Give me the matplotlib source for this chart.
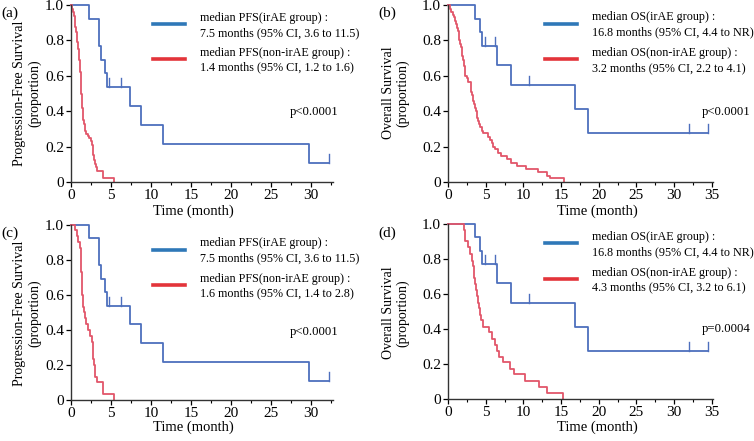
import matplotlib
matplotlib.use("Agg")
import matplotlib.pyplot as plt
from matplotlib.lines import Line2D
from matplotlib.ticker import MultipleLocator

plt.rcParams['font.family'] = ['Liberation Serif', 'DejaVu Serif']

W, H = 754, 441

# ---- data ----
# irAE group, PFS (panels a and c)
pfs_ir_t = [2.3, 3.5, 3.8, 4.3, 4.5, 7.4, 8.7, 11.5, 29.8]
pfs_ir_s = [0.923, 0.769, 0.692, 0.615, 0.538, 0.431, 0.323, 0.215, 0.108]
pfs_ir_cens = [4.8, 6.3, 32.3]
pfs_ir_end = 32.3

# non-irAE group, PFS (panel a)
pfs_a_t = [0.1, 0.2, 0.35, 0.45, 0.5, 0.55, 0.6, 0.7, 0.75, 0.8, 0.85, 0.9, 0.95, 1.0,
           1.05, 1.1, 1.15, 1.2, 1.25, 1.3, 1.35, 1.4, 1.45, 1.5, 1.55, 1.6, 1.7, 1.8,
           1.9, 2.1, 2.3, 2.5, 2.6, 2.7, 2.75, 2.8, 2.9, 3.0, 3.1, 3.3, 4.0, 5.4]
pfs_a_s = [0.98, 0.96, 0.94, 0.92, 0.90, 0.875, 0.85, 0.83, 0.81, 0.79, 0.77, 0.75, 0.73,
           0.71, 0.69, 0.65, 0.62, 0.58, 0.54, 0.50, 0.46, 0.42, 0.40, 0.375, 0.35, 0.33,
           0.31, 0.29, 0.27, 0.26, 0.25, 0.23, 0.21, 0.19, 0.17, 0.15, 0.125, 0.10, 0.083,
           0.063, 0.021, 0.0]

# non-irAE group, PFS (panel c)
pfs_c_t = [0.5, 0.7, 0.9, 1.1, 1.2, 1.25, 1.3, 1.35, 1.4, 1.45, 1.5, 1.6, 1.7, 1.9, 2.1,
           2.4, 2.6, 2.7, 2.75, 2.8, 2.9, 2.95, 3.0, 3.2, 4.0, 5.4]
pfs_c_s = [0.967, 0.933, 0.90, 0.867, 0.833, 0.80, 0.733, 0.667, 0.60, 0.567, 0.533, 0.50,
           0.467, 0.433, 0.40, 0.367, 0.333, 0.30, 0.267, 0.233, 0.20, 0.167, 0.133, 0.10,
           0.033, 0.0]

# irAE group, OS (panels b and d)
os_ir_t = [3.6, 4.2, 4.5, 6.5, 8.3, 16.8, 18.6]
os_ir_s = [0.923, 0.846, 0.769, 0.659, 0.549, 0.412, 0.275]
os_ir_cens = [4.9, 6.3, 10.8, 32.0, 34.5]
os_ir_end = 34.5

# non-irAE group, OS (panel b)
os_b_t = [0.2, 0.4, 0.6, 0.8, 0.9, 1.0, 1.2, 1.3, 1.4, 1.5, 1.6, 1.7, 1.8, 1.9, 2.0, 2.1,
          2.2, 2.3, 2.5, 2.7, 3.0, 3.1, 3.2, 3.3, 3.5, 3.6, 3.7, 3.8, 3.9, 4.0, 4.1, 4.3,
          4.5, 4.7, 5.3, 5.6, 5.8, 6.0, 6.3, 6.7, 7.0, 7.8, 8.3, 9.2, 10.4, 12.0, 13.2,
          13.5, 15.4]
os_b_s = [0.98, 0.96, 0.945, 0.93, 0.91, 0.89, 0.87, 0.855, 0.82, 0.80, 0.78, 0.76, 0.745,
          0.71, 0.69, 0.655, 0.62, 0.60, 0.585, 0.565, 0.55, 0.51, 0.49, 0.455, 0.44, 0.42,
          0.40, 0.38, 0.36, 0.345, 0.33, 0.31, 0.29, 0.275, 0.255, 0.24, 0.22, 0.20, 0.185,
          0.165, 0.145, 0.13, 0.11, 0.09, 0.075, 0.055, 0.035, 0.02, 0.0]

# non-irAE group, OS (panel d)
os_d_t = [2.1, 2.2, 2.3, 2.6, 2.9, 3.2, 3.3, 3.4, 3.5, 3.6, 3.7, 3.8, 4.0, 4.1, 4.2, 4.4,
          4.6, 5.4, 5.8, 6.2, 6.5, 6.8, 7.3, 8.2, 8.7, 10.2, 12.1, 13.2, 15.3]
os_d_s = [0.965, 0.93, 0.90, 0.865, 0.83, 0.79, 0.76, 0.72, 0.69, 0.655, 0.62, 0.59, 0.55,
          0.52, 0.48, 0.45, 0.41, 0.38, 0.345, 0.31, 0.275, 0.24, 0.21, 0.17, 0.14, 0.105,
          0.07, 0.035, 0.0]

panels = [
    dict(tag='(a)', ylab=['Progression-Free Survival', '(proportion)'],
         ir=(pfs_ir_t, pfs_ir_s, pfs_ir_cens, pfs_ir_end), non=(pfs_a_t, pfs_a_s),
         xmax=32.7, xticks=range(0, 31, 5),
         leg=['median PFS(irAE group) :', '7.5 months (95% CI, 3.6 to 11.5)',
              'median PFS(non-irAE group) :', '1.4 months (95% CI, 1.2 to 1.6)'],
         p='p<0.0001'),
    dict(tag='(b)', ylab=['Overall Survival', '(proportion)'],
         ir=(os_ir_t, os_ir_s, os_ir_cens, os_ir_end), non=(os_b_t, os_b_s),
         xmax=35.2, xticks=range(0, 36, 5),
         leg=['median OS(irAE group) :', '16.8 months (95% CI, 4.4 to NR)',
              'median OS(non-irAE group) :', '3.2 months (95% CI, 2.2 to 4.1)'],
         p='p<0.0001'),
    dict(tag='(c)', ylab=['Progression-Free Survival', '(proportion)'],
         ir=(pfs_ir_t, pfs_ir_s, pfs_ir_cens, pfs_ir_end), non=(pfs_c_t, pfs_c_s),
         xmax=32.7, xticks=range(0, 31, 5),
         leg=['median PFS(irAE group) :', '7.5 months (95% CI, 3.6 to 11.5)',
              'median PFS(non-irAE group) :', '1.6 months (95% CI, 1.4 to 2.8)'],
         p='p<0.0001'),
    dict(tag='(d)', ylab=['Overall Survival', '(proportion)'],
         ir=(os_ir_t, os_ir_s, os_ir_cens, os_ir_end), non=(os_d_t, os_d_s),
         xmax=35.2, xticks=range(0, 36, 5),
         leg=['median OS(irAE group) :', '16.8 months (95% CI, 4.4 to NR)',
              'median OS(non-irAE group) :', '4.3 months (95% CI, 3.2 to 6.1)'],
         p='p=0.0004'),
]

# axes boxes in pixels: left, top, right, bottom
boxes = [(71, 5, 332.7, 182), (448, 5, 713.3, 182),
         (71, 224.7, 332.7, 400), (448, 223.7, 713.3, 399)]

# legend / label pixel positions per panel
leg_lines = [[24, 59], [24, 59], [250, 285], [243, 279]]
leg_texts = [[18, 33, 53, 67], [17, 32, 53, 68], [243, 258, 279, 293], [237, 252, 273, 287]]
p_ys = [112, 112, 332, 329]
xlab_ys = [211, 211, 427, 427]

BLUE = '#4d6fbd'
RED = '#e2566a'
LEG_BLUE = '#2f78b8'
LEG_RED = '#e3343a'

fig = plt.figure(figsize=(W / 100, H / 100), dpi=100)


def fx(px):
    return px / W


def fy(py):
    return 1 - py / H


def km_step(ax, t, s, end, color):
    xs = [0] + list(t) + ([end] if end is not None else [])
    ys = [1.0] + list(s) + ([s[-1]] if end is not None else [])
    ax.step(xs, ys, where='post', color=color, lw=1.3, clip_on=False)


for i, (pn, box) in enumerate(zip(panels, boxes)):
    l, t_, r, b = box
    ax = fig.add_axes([fx(l), fy(b), fx(r) - fx(l), fy(t_) - fy(b)])
    ir_t, ir_s, ir_c, ir_end = pn['ir']
    km_step(ax, ir_t, ir_s, ir_end, BLUE)
    # censor marks
    for c in ir_c:
        lvl = 1.0
        for tt, ss in zip(ir_t, ir_s):
            if c >= tt:
                lvl = ss
        ax.plot([c, c], [lvl, lvl + 0.05], color=BLUE, lw=1.0, clip_on=False)
    nt, ns = pn['non']
    km_step(ax, nt, ns, None, RED)

    ax.set_xlim(0, pn['xmax'])
    ax.set_ylim(0, 1.0)
    ax.set_xticks(list(pn['xticks']))
    ax.xaxis.set_minor_locator(MultipleLocator(2.5))
    ax.set_yticks([0, 0.2, 0.4, 0.6, 0.8, 1.0])
    ax.set_yticklabels(['0', '0.2', '0.4', '0.6', '0.8', '1.0'])
    ax.tick_params(direction='out', length=3.5, width=0.9, labelsize=11, pad=1.5)
    ax.tick_params(which='minor', direction='out', length=2.5, width=0.8)
    for sp in ['top', 'right']:
        ax.spines[sp].set_visible(False)
    for sp in ['left', 'bottom']:
        ax.spines[sp].set_linewidth(1.0)
        ax.spines[sp].set_color('#333333')
    ax.patch.set_alpha(0)

    ox = 0 if i % 2 == 0 else 377
    oy = 0 if i < 2 else 220
    # panel tag
    fig.text(fx(ox + 1), fy(oy + 13), pn['tag'], fontsize=11, va='center', ha='left')

    # y label (two rotated lines)
    yl_x = [20, 35] if i % 2 == 0 else [389, 403]
    for txt, xx in zip(pn['ylab'], yl_x):
        fig.text(fx(xx), fy(oy + 93), txt, rotation=90, fontsize=10,
                 ha='center', va='center')

    # x label
    xl_x = 193 if i % 2 == 0 else 597
    fig.text(fx(xl_x), fy(xlab_ys[i]), 'Time (month)', fontsize=10.5,
             ha='center', va='center')

    # legend, drawn by hand
    if i % 2 == 0:
        lx0, lx1, tx, px_ = 153, 185, 200, 290
    else:
        lx0, lx1, tx, px_ = 545, 577, 592, 702
    ly = leg_lines[i]
    fig.add_artist(Line2D([fx(lx0), fx(lx1)], [fy(ly[0]), fy(ly[0])],
                          color=LEG_BLUE, lw=2.6, transform=fig.transFigure))
    fig.add_artist(Line2D([fx(lx0), fx(lx1)], [fy(ly[1]), fy(ly[1])],
                          color=LEG_RED, lw=2.6, transform=fig.transFigure))
    for txt, yy in zip(pn['leg'], leg_texts[i]):
        fig.text(fx(tx), fy(yy), txt, fontsize=8.7, va='center', ha='left')
    fig.text(fx(px_), fy(p_ys[i]), pn['p'], fontsize=9.2, va='center', ha='left')

fig.savefig('out.png', dpi=100)
